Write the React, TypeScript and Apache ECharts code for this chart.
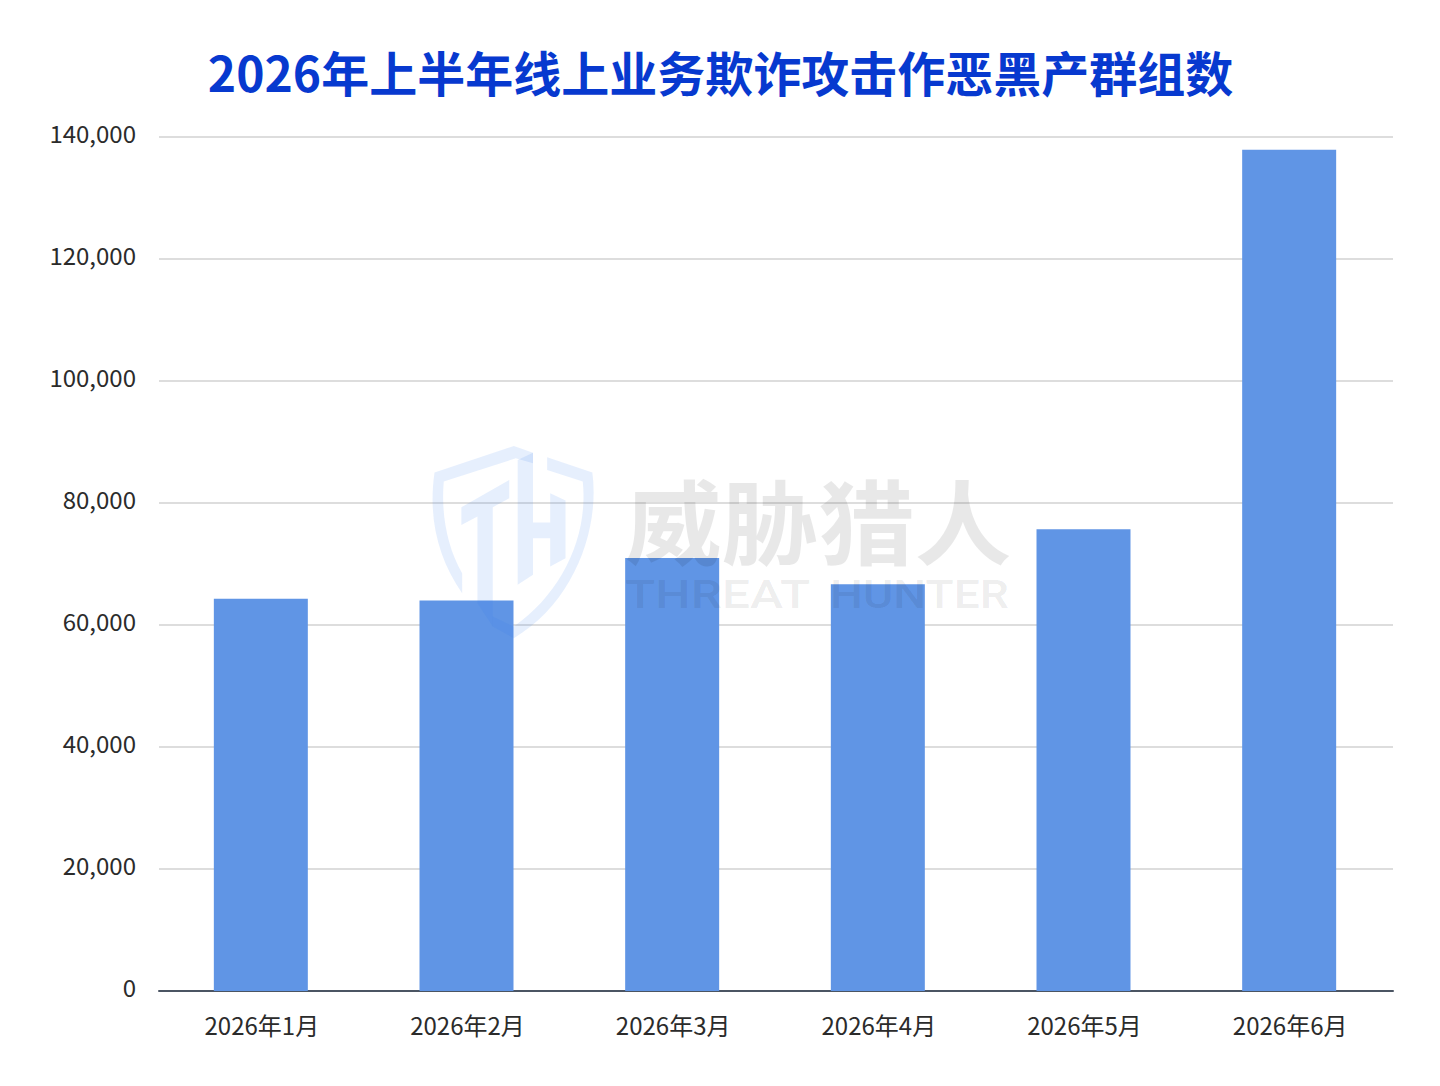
import React, { useEffect, useRef } from "react";
import * as echarts from "echarts";

const title = "2026年上半年线上业务欺诈攻击作恶黑产群组数";
const months = ["2026年1月", "2026年2月", "2026年3月", "2026年4月", "2026年5月", "2026年6月"];
const groupCounts = [64300, 64000, 71000, 66700, 75700, 137900];

const FONT = '"Noto Sans CJK SC", "Noto Sans", sans-serif';

// watermark shield
const shieldOutline =
  "M245 48 L295 68 L295 100 L250 85 L62 155 C55 250 70 350 110 430 L110 490 C50 390 20 270 38 128 Z " +
  "M332 82 L450 128 C470 300 400 520 245 625 L190 590 L190 560 L245 590 C370 490 440 320 425 155 L332 120 Z";
const shieldLetters =
  "M255 90 L295 68 L295 278 L340 278 L340 190 L380 212 L380 385 L340 410 L340 325 L295 325 L295 435 L255 465 Z " +
  "M233 150 L233 205 L190 232 L190 590 L150 520 L150 260 L108 285 L108 232 Z";

echarts.graphic.registerShape("shieldOutline", echarts.graphic.extendPath(shieldOutline, {}));
echarts.graphic.registerShape("shieldLetters", echarts.graphic.extendPath(shieldLetters, {}));

const App: React.FC = () => {
  const chartRef = useRef<HTMLDivElement>(null);

  useEffect(() => {
    document.body.style.margin = "0";
    if (!chartRef.current) return;
    const chart = echarts.init(chartRef.current, undefined, { renderer: "svg" });

    const option: echarts.EChartsOption = {
      animation: false,
      backgroundColor: "#ffffff",
      title: {
        text: title,
        left: 715.5,
        top: 42,
        textAlign: "center",
        textStyle: {
          color: "#0739cf",
          fontFamily: FONT,
          fontSize: 48,
          fontWeight: 700,
        },
      },
      // second grid only holds the bars, they sit 1px left of the axis in the picture
      grid: [
        { left: 159, right: 47, top: 137, bottom: 95 },
        { left: 158, right: 48, top: 137, bottom: 95 },
      ],
      xAxis: [
        {
          type: "category",
          data: months,
          axisTick: { show: false },
          axisLine: { lineStyle: { color: "#4b5563", width: 2 } },
          axisLabel: {
            color: "#2b2b2b",
            fontFamily: FONT,
            fontSize: 24,
            margin: 21,
            interval: 0,
          },
        },
        { type: "category", gridIndex: 1, data: months, show: false },
      ],
      yAxis: [
        {
          type: "value",
          min: 0,
          max: 140000,
          interval: 20000,
          axisLine: { show: false },
          axisTick: { show: false },
          splitLine: { lineStyle: { color: "#dddddd", width: 2 } },
          axisLabel: {
            color: "#2b2b2b",
            fontFamily: FONT,
            fontSize: 24,
            margin: 23,
            verticalAlign: "bottom",
            lineHeight: 10,
            formatter: (v: number) => v.toLocaleString("en-US"),
          },
        },
        { type: "value", gridIndex: 1, min: 0, max: 140000, show: false, splitLine: { show: false } },
      ],
      series: [
        {
          type: "bar",
          xAxisIndex: 1,
          yAxisIndex: 1,
          data: groupCounts,
          barWidth: "45.7%",
          itemStyle: { color: "#6095e5" },
        },
      ],
      graphic: [
        {
          type: "group",
          silent: true,
          children: [
            {
              type: "shieldOutline",
              z: 100,
              x: 420,
              y: 430,
              scaleX: 1 / 2.613,
              scaleY: 1 / 3,
              style: { fill: "rgba(50,120,235,0.12)" },
            },
            {
              type: "shieldLetters",
              z: 100,
              x: 420,
              y: 430,
              scaleX: 1 / 2.613,
              scaleY: 1 / 3,
              style: { fill: "rgba(50,120,235,0.12)" },
            },
            {
              type: "text",
              z: 100,
              x: 625,
              y: 472,
              scaleX: 1.05,
              style: {
                text: "威胁猎人",
                fontFamily: FONT,
                fontSize: 92,
                fontWeight: 700,
                fill: "rgba(0,0,0,0.09)",
              },
            },
            {
              type: "text",
              z: 100,
              x: 625,
              y: 576,
              scaleX: 1.31,
              style: {
                text: "THREAT",
                fontFamily: "Roboto",
                fontSize: 38,
                fontWeight: 500,
                fill: "rgba(0,0,0,0.08)",
              },
            },
            {
              type: "text",
              z: 100,
              x: 830,
              y: 576,
              scaleX: 1.22,
              style: {
                text: "HUNTER",
                fontFamily: "Roboto",
                fontSize: 38,
                fontWeight: 500,
                fill: "rgba(0,0,0,0.08)",
              },
            },
          ],
        },
      ],
    };

    chart.setOption(option);
    return () => chart.dispose();
  }, []);

  return <div ref={chartRef} style={{ width: 1440, height: 1086 }} />;
};

export default App;
